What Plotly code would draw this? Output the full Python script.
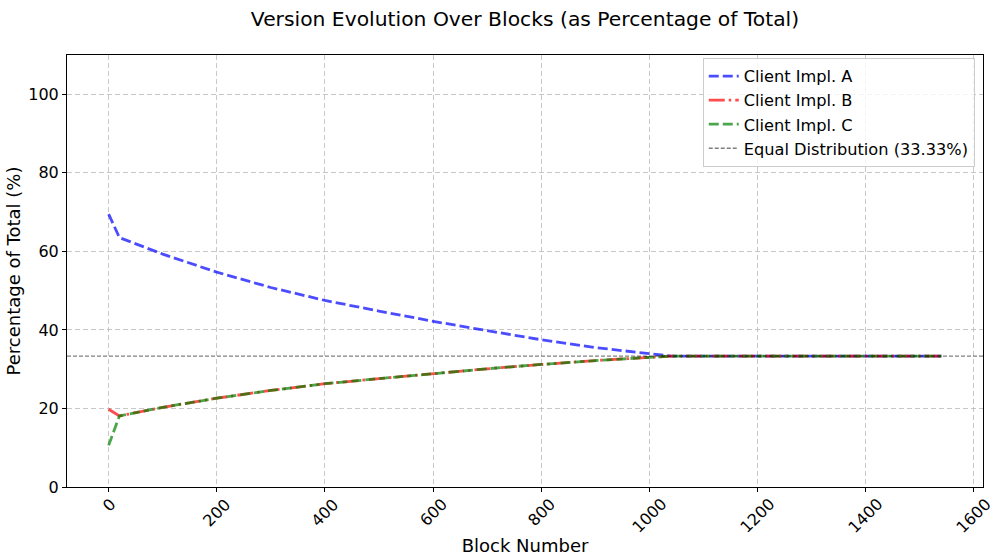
import plotly.graph_objects as go

# Data
blocks = [0, 20, 100, 200, 300, 400, 500, 600, 700, 800, 900, 1000, 1040,
          1100, 1200, 1300, 1400, 1500, 1540]
client_a = [69.5, 63.5, 59.3, 54.7, 50.8, 47.5, 44.8, 42.2, 39.8, 37.5, 35.5,
            34.0, 33.33, 33.33, 33.33, 33.33, 33.33, 33.33, 33.33]
client_b = [19.8, 18.1, 20.3, 22.6, 24.6, 26.3, 27.6, 28.9, 30.1, 31.2, 32.2,
            33.0, 33.33, 33.33, 33.33, 33.33, 33.33, 33.33, 33.33]
client_c = [10.6, 18.1, 20.3, 22.6, 24.6, 26.3, 27.6, 28.9, 30.1, 31.2, 32.2,
            33.0, 33.33, 33.33, 33.33, 33.33, 33.33, 33.33, 33.33]
equal_share = 100 / 3
x_ticks = [0, 200, 400, 600, 800, 1000, 1200, 1400, 1600]
y_ticks = [0, 20, 40, 60, 80, 100]

FONT = "DejaVu Sans"
x_min = -0.05 * blocks[-1]
x_max = 1.05 * blocks[-1]

fig = go.Figure()
fig.add_trace(go.Scatter(x=blocks, y=client_a, mode="lines", name="Client Impl. A",
                         line=dict(color="rgba(0,0,255,0.7)", width=2.8, dash="10px,4px")))
fig.add_trace(go.Scatter(x=blocks, y=client_b, mode="lines", name="Client Impl. B",
                         line=dict(color="rgba(255,0,0,0.7)", width=2.8, dash="16px,4px,2.5px,4px")))
fig.add_trace(go.Scatter(x=blocks, y=client_c, mode="lines", name="Client Impl. C",
                         line=dict(color="rgba(0,128,0,0.7)", width=2.8, dash="10px,4px")))
fig.add_trace(go.Scatter(x=[x_min, x_max], y=[equal_share, equal_share], mode="lines",
                         name="Equal Distribution (33.33%)",
                         line=dict(color="rgba(0,0,0,0.5)", width=1.3, dash="4px,2px")))

annotations = []
for t in x_ticks:
    label = str(t)
    w = 9.5 * len(label)
    h = 14
    shift = 10 + 0.707 * (w + h) / 2
    annotations.append(dict(x=t, y=0, xref="x", yref="paper", text=label, showarrow=False,
                            textangle=-45, xanchor="center", yanchor="middle",
                            yshift=-shift, font=dict(family=FONT, size=16, color="black")))

fig.update_layout(
    width=994, height=556,
    margin=dict(l=67, r=11, t=55, b=69, autoexpand=False),
    paper_bgcolor="white", plot_bgcolor="white",
    font=dict(family=FONT, size=16, color="black"),
    title=dict(text="Version Evolution Over Blocks (as Percentage of Total)",
               x=(67 + 983) / 2 / 994, xanchor="center", y=1 - 19 / 556, yanchor="middle",
               font=dict(family=FONT, size=20.3, color="black")),
    showlegend=True,
    legend=dict(x=0.991, y=0.993, xanchor="right", yanchor="top",
                bgcolor="rgba(255,255,255,0.8)", bordercolor="#cccccc", borderwidth=1,
                font=dict(family=FONT, size=16.2, color="black"),
                tracegroupgap=0),
    annotations=annotations,
)
fig.update_xaxes(range=[x_min, x_max], tickvals=x_ticks, showticklabels=False,
                 ticks="outside", ticklen=4, tickcolor="black", automargin=False,
                 showline=True, linecolor="black", linewidth=1, mirror=True,
                 showgrid=True, gridcolor="rgba(176,176,176,0.7)", griddash="5px,3px", gridwidth=1,
                 zeroline=False,
                 title=dict(text="Block Number", font=dict(family=FONT, size=18), standoff=49))
fig.update_yaxes(range=[0, 110], tickvals=y_ticks, automargin=False,
                 ticks="outside", ticklen=4, tickcolor="black",
                 showline=True, linecolor="black", linewidth=1, mirror=True,
                 showgrid=True, gridcolor="rgba(176,176,176,0.7)", griddash="5px,3px", gridwidth=1,
                 zeroline=False, tickfont=dict(family=FONT, size=16),
                 title=dict(text="Percentage of Total (%)", font=dict(family=FONT, size=18), standoff=2))

fig.write_html("out.html", config={"displayModeBar": False},
               post_script="document.body.style.margin='0';")
